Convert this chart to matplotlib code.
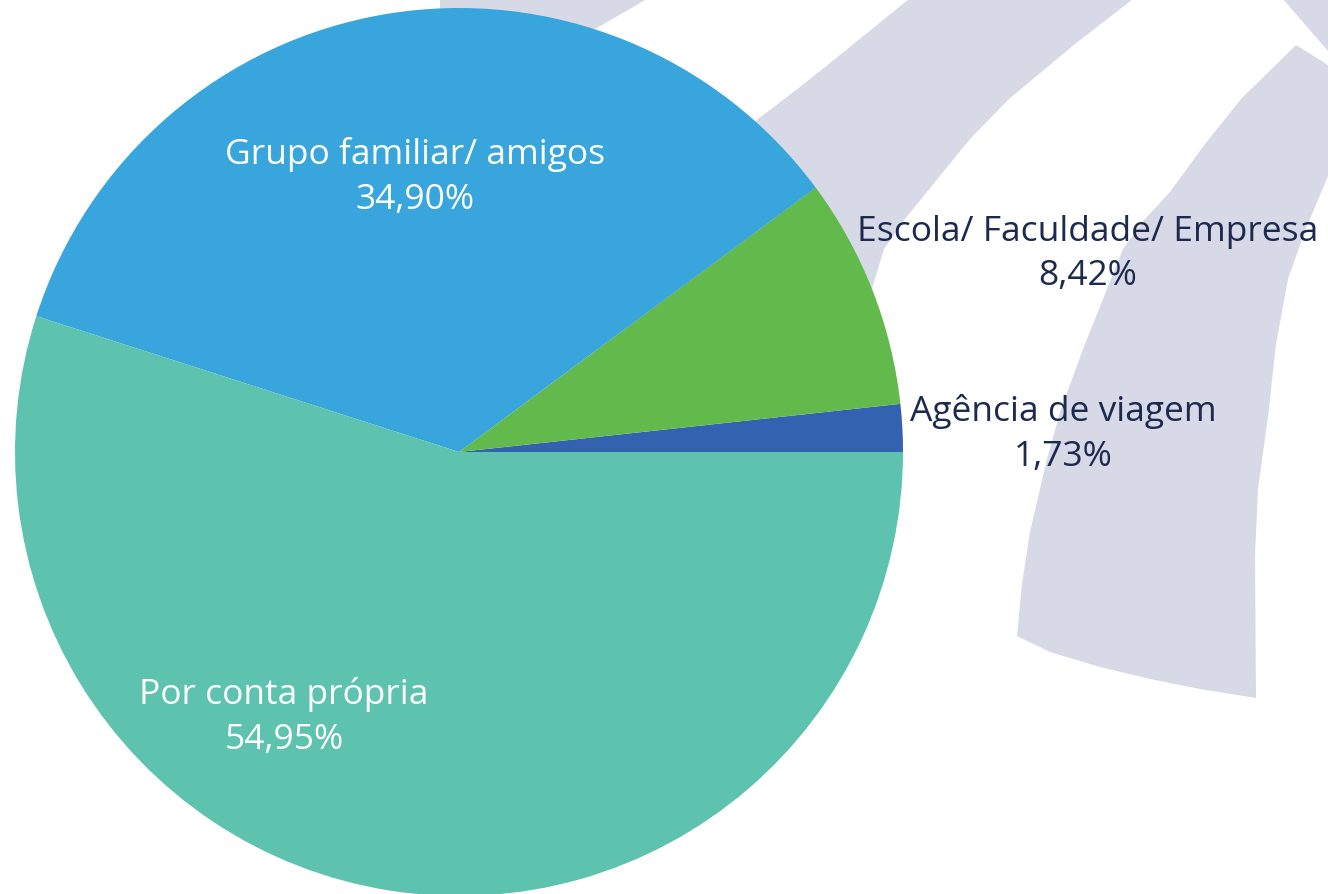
import numpy as np
import matplotlib
matplotlib.use('Agg')
import matplotlib.pyplot as plt
from matplotlib.patches import Polygon

# slices, counter-clockwise from 3 o'clock
categories = ['Agência de viagem', 'Escola/ Faculdade/ Empresa', 'Grupo familiar/ amigos', 'Por conta própria']
shares = [1.73, 8.42, 34.90, 54.95]
pct_labels = ['1,73%', '8,42%', '34,90%', '54,95%']
colors = ['#3262b0', '#62b94c', '#38a5dc', '#5dc2ae']

W, H = 1328, 895
CX, CY, R = 459, 453, 444
WM = '#d7dae6'
NAVY = '#1b2a4e'
FONT = 'Open Sans'

fig = plt.figure(figsize=(W / 100, H / 100), dpi=100)
ax = fig.add_axes([0, 0, 1, 1])

# faint logo watermark in the background
band_u = [(909, 0), (1133, 0), (1075, 45), (1009, 100), (970, 140), (935, 183), (905, 220),
          (884, 250), (871, 293), (700, 420), (600, 300), (700, 170), (758, 120), (800, 88), (835, 60)]
band_r = [(1296, 46), (1328, 66), (1328, 177), (1305, 232), (1288, 280), (1276, 345), (1268, 418),
          (1258, 490), (1255, 557), (1256, 699), (1200, 690), (1150, 680), (1100, 668), (1050, 653),
          (1017, 637), (1022, 585), (1030, 533), (1046, 464), (1060, 413), (1083, 350), (1103, 300),
          (1123, 250), (1145, 220), (1170, 193), (1205, 145), (1241, 100)]
band_t = [(1283, 0), (1328, 0), (1328, 52)]
band_s = [(440, 0), (647, 0), (595, 30), (440, 30)]
for pts in (band_u, band_r, band_t, band_s):
    ax.add_patch(Polygon(pts, closed=True, facecolor=WM, edgecolor='none', zorder=0))

# y axis runs downward, so counterclock=False draws counter-clockwise on screen
ax.pie(shares, colors=colors, startangle=0, counterclock=False, radius=R, center=(CX, CY),
       wedgeprops=dict(linewidth=0), frame=False)

ax.set_xlim(0, W)
ax.set_ylim(H, 0)
ax.set_aspect('equal')
ax.axis('off')

label_pos = [(1063, 434, NAVY), (1088, 254, NAVY), (415, 177, 'white'), (284, 717, 'white')]
for name, pct, (x, y, c) in zip(categories, pct_labels, label_pos):
    ax.text(x, y, f'{name}\n{pct}', ha='center', va='center', color=c, fontsize=25.5,
            family=FONT, linespacing=1.42, zorder=5)

fig.savefig('out.png', dpi=100)
